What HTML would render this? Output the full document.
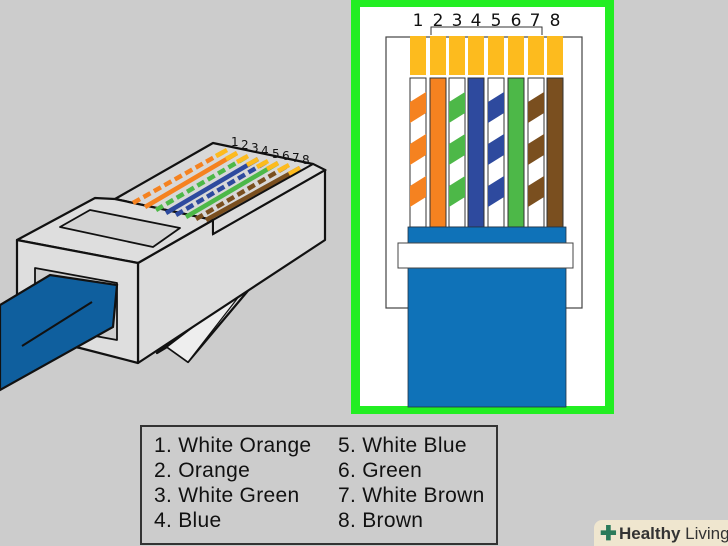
<!DOCTYPE html>
<html><head><meta charset="utf-8"><style>
html,body{margin:0;padding:0;background:#cccccc;}
body{width:728px;height:546px;position:relative;overflow:hidden;font-family:"Liberation Sans",sans-serif;}
.legend{position:absolute;left:140px;top:425px;width:358px;height:120px;border:2px solid #333;box-sizing:border-box;font-family:"Liberation Sans",sans-serif;font-size:21px;color:#111;}
.legend div{position:absolute;white-space:nowrap;letter-spacing:0.3px;}
.hl{position:absolute;left:594px;top:520px;width:134px;height:26px;background:#efe6cf;border-radius:8px 0 0 0;font-size:17px;color:#333;white-space:nowrap;}
</style></head><body>
<svg width="728" height="546" style="position:absolute;left:0;top:0">
<rect x="351" y="0" width="263" height="414" fill="#22ee22"/>
<rect x="360" y="7" width="245" height="399" fill="#fff"/>
<rect x="386" y="37" width="196" height="271" fill="#fff" stroke="#444" stroke-width="1.2"/>
<g font-family="DejaVu Sans, Liberation Sans, sans-serif" font-size="17" fill="#111" text-anchor="middle">
<text x="418" y="26">1</text><text x="438" y="26">2</text><text x="457" y="26">3</text><text x="476" y="26">4</text><text x="496" y="26">5</text><text x="516" y="26">6</text><text x="535" y="26">7</text><text x="555" y="26">8</text>
</g>
<path d="M431 35 V27 H542 V35" fill="none" stroke="#333" stroke-width="1"/>
<defs>
<clipPath id="w1"><rect x="410" y="78" width="16" height="149"/></clipPath>
<clipPath id="w3"><rect x="449" y="78" width="16" height="149"/></clipPath>
<clipPath id="w5"><rect x="488" y="78" width="16" height="149"/></clipPath>
<clipPath id="w7"><rect x="528" y="78" width="16" height="149"/></clipPath>
</defs>
<g fill="#fdbb1e">
<rect x="410" y="36" width="16" height="39"/><rect x="430" y="36" width="16" height="39"/><rect x="449" y="36" width="16" height="39"/><rect x="468" y="36" width="16" height="39"/><rect x="488" y="36" width="16" height="39"/><rect x="508" y="36" width="16" height="39"/><rect x="528" y="36" width="16" height="39"/><rect x="547" y="36" width="16" height="39"/>
</g>
<g stroke="#333" stroke-width="1">
<rect x="410" y="78" width="16" height="149" fill="#fff"/>
<rect x="430" y="78" width="16" height="149" fill="#f58220"/>
<rect x="449" y="78" width="16" height="149" fill="#fff"/>
<rect x="468" y="78" width="16" height="149" fill="#2e4a9e"/>
<rect x="488" y="78" width="16" height="149" fill="#fff"/>
<rect x="508" y="78" width="16" height="149" fill="#4db848"/>
<rect x="528" y="78" width="16" height="149" fill="#fff"/>
<rect x="547" y="78" width="16" height="149" fill="#7a4f1f"/>
</g>
<g>
<g clip-path="url(#w1)" fill="#f58220"><polygon points="410,102 426,92 426,113 410,123"/><polygon points="410,144 426,134 426,155 410,165"/><polygon points="410,186 426,176 426,197 410,207"/></g>
<g clip-path="url(#w3)" fill="#4db848"><polygon points="449,102 465,92 465,113 449,123"/><polygon points="449,144 465,134 465,155 449,165"/><polygon points="449,186 465,176 465,197 449,207"/></g>
<g clip-path="url(#w5)" fill="#2e4a9e"><polygon points="488,102 504,92 504,113 488,123"/><polygon points="488,144 504,134 504,155 488,165"/><polygon points="488,186 504,176 504,197 488,207"/></g>
<g clip-path="url(#w7)" fill="#7a4f1f"><polygon points="528,102 544,92 544,113 528,123"/><polygon points="528,144 544,134 544,155 528,165"/><polygon points="528,186 544,176 544,197 528,207"/></g>
</g>
<rect x="408" y="227" width="158" height="180" fill="#0f72b8" stroke="#234" stroke-width="0.8"/>
<rect x="398" y="243" width="175" height="25" fill="#fff" stroke="#444" stroke-width="1"/>

<g stroke="#111" stroke-width="2.2" stroke-linejoin="round">
<polygon points="157,353 257,280 188,362 167,347" fill="#ddd"/>
<polygon points="167,347 247,286 188,362" fill="#eee" stroke-width="1.2"/>
<polygon points="138,263 213,220 213,234 325,170 325,240 138,363" fill="#dcdcdc"/>
<polygon points="115,199 213,143 232,147 313,164 325,170 213,220" fill="#d8d8d8"/>
<polygon points="17,240 95,198 115,199 213,220 138,263" fill="#dedede"/>
<polygon points="60,227 90,210 180,228 153,247" fill="#d4d4d4" stroke-width="1.8"/>
<polygon points="17,240 138,263 138,363 80,348 17,335" fill="#dedede"/>
<polygon points="35,268 117,283 117,340 35,325" fill="#cfcfcf" stroke-width="1.8"/>
</g>
<g stroke-width="4.5" stroke-linecap="butt">
<line x1="133" y1="203" x2="227" y2="150" stroke="#f58220" stroke-dasharray="8 4"/>
<line x1="145" y1="207" x2="237" y2="153" stroke="#f58220"/>
<line x1="156" y1="210" x2="248" y2="156" stroke="#4db848" stroke-dasharray="8 4"/>
<line x1="166" y1="213" x2="258" y2="159" stroke="#2e4a9e"/>
<line x1="176" y1="215" x2="268" y2="161" stroke="#2e4a9e" stroke-dasharray="8 4"/>
<line x1="186" y1="217" x2="278" y2="163" stroke="#4db848"/>
<line x1="196" y1="219" x2="289" y2="165" stroke="#7a4f1f" stroke-dasharray="8 4"/>
<line x1="206" y1="220" x2="300" y2="168" stroke="#7a4f1f"/>
</g>
<g stroke="#fdbb1e" stroke-width="4.5">
<line x1="216" y1="156" x2="227" y2="150"/><line x1="226" y1="159" x2="237" y2="153"/><line x1="237" y1="162" x2="248" y2="156"/><line x1="247" y1="165" x2="258" y2="159"/><line x1="257" y1="167" x2="268" y2="161"/><line x1="267" y1="169" x2="278" y2="163"/><line x1="278" y1="171" x2="289" y2="165"/><line x1="289" y1="174" x2="300" y2="168"/>
</g>
<polygon points="213,220 213,234 325,170 313,164" fill="#dcdcdc" stroke="#111" stroke-width="2"/>
<g font-family="DejaVu Sans, sans-serif" font-size="12" fill="#111">
<text x="231" y="146">1</text><text x="241" y="149">2</text><text x="251" y="152">3</text><text x="261" y="155">4</text><text x="272" y="158">5</text><text x="282" y="160">6</text><text x="292" y="162">7</text><text x="302" y="164">8</text>
</g>
<polygon points="0,305 50,275 117,285 113,327 0,390" fill="#0f5f9e" stroke="#111" stroke-width="2.2"/>
<line x1="22" y1="346" x2="92" y2="302" stroke="#111" stroke-width="2"/>
</svg>
<div class="legend">
<div style="left:12px;top:7px">1. White Orange</div>
<div style="left:12px;top:32px">2. Orange</div>
<div style="left:12px;top:57px">3. White Green</div>
<div style="left:12px;top:82px">4. Blue</div>
<div style="left:196px;top:7px">5. White Blue</div>
<div style="left:196px;top:32px">6. Green</div>
<div style="left:196px;top:57px">7. White Brown</div>
<div style="left:196px;top:82px">8. Brown</div>
</div>
<div class="hl"><span style="position:absolute;left:6px;top:1px;color:#2a7a5a;font-weight:bold;font-size:20px">✚</span><span style="position:absolute;left:25px;top:4px"><b>Healthy</b> Living</span></div>
</body></html>
